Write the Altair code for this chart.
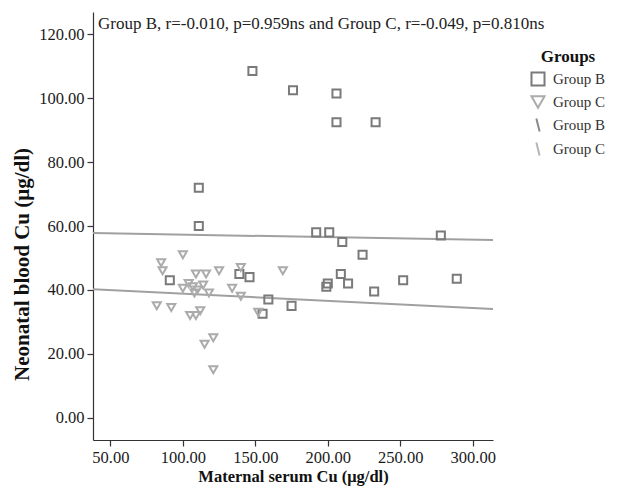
import altair as alt
import pandas as pd

# Group B (squares)
B_x = [148, 176, 206, 206, 233, 111, 111, 192, 201, 210, 278, 224, 209, 200, 199, 214, 232, 252, 289, 175, 91, 139, 146, 159, 155]
B_y = [108.5, 102.5, 101.5, 92.5, 92.5, 72, 60, 58, 58, 55, 57, 51, 45, 42, 41, 42, 39.5, 43, 43.5, 35, 43, 45, 44, 37, 32.5]
# Group C (triangles)
C_x = [100, 85, 86, 109, 116, 125, 140, 169, 100, 107, 110, 114, 108, 134, 140, 152, 82, 92, 105, 109, 112, 121, 115, 121, 104, 118]
C_y = [51, 48.5, 46, 45, 45, 46, 47, 46, 40.5, 41, 40, 41.5, 39, 40.5, 38, 33, 35, 34.5, 32, 32, 33.5, 25, 23, 15, 42, 39]
# Linear fit lines (endpoints over axis range)
fit_x = [38, 314]
fit_B = [57.8, 55.6]
fit_C = [40.2, 34.0]

legend_keys = ["B_pt", "C_pt", "B_fit", "C_fit"]
x_ticks = [50, 100, 150, 200, 250, 300]
y_ticks = [0, 20, 40, 60, 80, 100, 120]
title_text = "Group B, r=-0.010, p=0.959ns and Group C, r=-0.049, p=0.810ns"

pts = pd.DataFrame({
    "x": B_x + C_x,
    "y": B_y + C_y,
    "key": ["B_pt"] * len(B_x) + ["C_pt"] * len(C_x),
})
fits = pd.DataFrame({
    "x": fit_x + fit_x,
    "y": fit_B + fit_C,
    "grp": ["B", "B", "C", "C"],
})

FONT = "Liberation Serif"
xs = alt.Scale(domain=[38, 314], nice=False, zero=False)
ys = alt.Scale(domain=[-7, 127], nice=False, zero=False)

xax = alt.Axis(values=x_ticks, format=".2f", grid=False, title="Maternal serum Cu (μg/dl)",
               titlePadding=3, titleFontSize=16.5, labelPadding=3)
yax = alt.Axis(values=y_ticks, format=".2f", grid=False, title="Neonatal blood Cu (μg/dl)",
               titlePadding=6, titleFontSize=21, labelPadding=3, titleY=252)

lines = alt.Chart(fits).mark_line(strokeWidth=2, color="#a0a0a0").encode(
    x=alt.X("x:Q", scale=xs, axis=xax),
    y=alt.Y("y:Q", scale=ys, axis=yax),
    detail="grp:N",
)

shape_range = ["square", "triangle-down", "M-0.25,-1L0.25,1", "M-0.25,-1L0.25,1"]
stroke_range = ["#7a7a7a", "#ababab", "#8a8a8a", "#b5b5b5"]
lab_expr = "indexof(datum.label, 'B') >= 0 ? 'Group B' : 'Group C'"

points = alt.Chart(pts).mark_point(filled=False, size=65, strokeWidth=2, opacity=1).encode(
    x=alt.X("x:Q", scale=xs, axis=xax),
    y=alt.Y("y:Q", scale=ys, axis=yax),
    shape=alt.Shape("key:N", scale=alt.Scale(domain=legend_keys, range=shape_range),
                    legend=alt.Legend(title="Groups", labelExpr=lab_expr)),
    stroke=alt.Stroke("key:N", scale=alt.Scale(domain=legend_keys, range=stroke_range),
                      legend=alt.Legend(title="Groups", labelExpr=lab_expr)),
)

label = alt.Chart(pd.DataFrame({"t": [title_text]})).mark_text(
    align="left", baseline="middle", font=FONT, fontSize=17, color="#222"
).encode(x=alt.value(5), y=alt.value(12), text="t:N")

chart = alt.layer(lines, points, label).properties(
    width=400, height=428,
    autosize=alt.AutoSizeParams(type="none"),
    padding={"left": 85, "top": 4, "right": 121, "bottom": 48},
).configure_view(stroke=None).configure_axis(
    labelFont=FONT, titleFont=FONT, labelFontSize=16.5,
    labelColor="#1a1a1a", titleColor="#111", domainColor="#333", tickColor="#333",
    tickSize=6, domainWidth=1.2, tickWidth=1.2,
).configure_legend(
    orient="none", legendX=437, legendY=37,
    titleFont=FONT, labelFont=FONT, titleFontSize=17, labelFontSize=15,
    titleFontWeight="bold", labelColor="#333", titleColor="#111", titleAnchor="middle",
    symbolSize=170, symbolStrokeWidth=2, symbolFillColor="transparent",
    rowPadding=2, titlePadding=5, labelOffset=7, labelLimit=200,
)

chart.save("out.html", embed_options={"renderer": "svg", "actions": False})
